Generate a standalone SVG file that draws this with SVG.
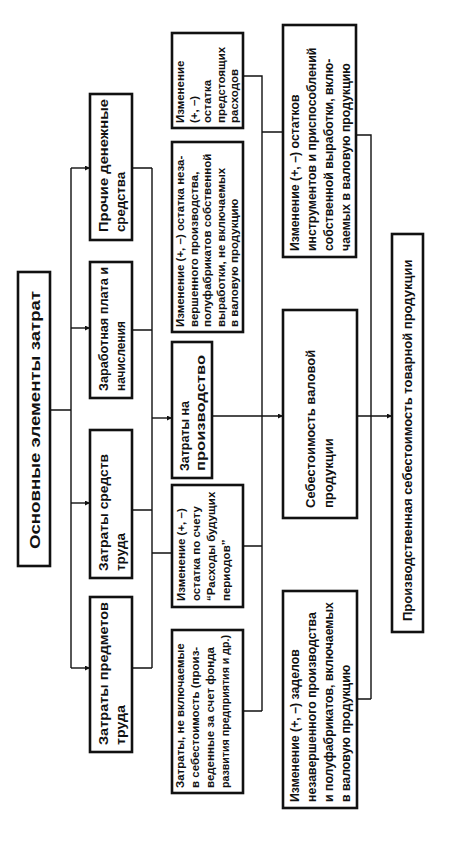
<svg xmlns="http://www.w3.org/2000/svg" width="454" height="841" viewBox="0 0 454 841">
<defs>
<marker id="ah" viewBox="0 0 10 10" refX="10" refY="5" markerWidth="7" markerHeight="5" orient="auto" markerUnits="userSpaceOnUse"><path d="M0,0 L10,5 L0,10 z" fill="#111"/></marker>
<style>
.box{fill:#fff;stroke:#111;stroke-width:2.6}
.t{font-family:"Liberation Sans",Arial,sans-serif;font-weight:bold;fill:#111}
.b{font-size:13px}
.m{font-size:11.5px}
.l{font-size:12.3px}
.big{font-size:15px}
.c{fill:none;stroke:#111;stroke-width:1.4}
.a{fill:none;stroke:#111;stroke-width:1.4;marker-end:url(#ah)}
</style>
</defs>
<rect width="454" height="841" fill="#fff"/>
<g id="connectors">
<path class="c" d="M50,410 H71 M71,168 V668"/>
<path class="a" d="M71,168 H90"/>
<path class="a" d="M71,328 H90"/>
<path class="a" d="M71,503 H90"/>
<path class="a" d="M71,668 H90"/>
<path class="c" d="M132,168 H152 M132,330 H152 M132,510 H152 M132,668 H152 M152,168 V668 M152,553 H172"/>
<path class="a" d="M152,418 H172"/>
<path class="c" d="M243,76 H262 V711 M262,132 H283 M243,546 H262 M243,711 H262"/>
<path class="a" d="M212,416 H283"/>
<path class="c" d="M356,135 H371 V699 M357,699 H371"/>
<path class="a" d="M357,416 H392"/>
</g>
<g id="n-main"><rect class="box" x="18" y="272" width="32" height="294"/>
<text class="t big" transform="translate(39.5,549) rotate(-90)" textLength="258" lengthAdjust="spacingAndGlyphs">Основные элементы затрат</text></g>
<g id="n-prochie"><rect class="box" x="90" y="94" width="42" height="146"/>
<text class="t b" transform="translate(108,232) rotate(-90)" textLength="133" lengthAdjust="spacingAndGlyphs">Прочие денежные</text>
<text class="t b" transform="translate(125,232) rotate(-90)" textLength="60" lengthAdjust="spacingAndGlyphs">средства</text></g>
<g id="n-zarplata"><rect class="box" x="90" y="262" width="42" height="136"/>
<text class="t b" transform="translate(108,391) rotate(-90)" textLength="124" lengthAdjust="spacingAndGlyphs">Заработная плата и</text>
<text class="t b" transform="translate(125,391) rotate(-90)" textLength="70" lengthAdjust="spacingAndGlyphs">начисления</text></g>
<g id="n-sredstv"><rect class="box" x="90" y="430" width="42" height="148"/>
<text class="t b" transform="translate(108,571) rotate(-90)" textLength="117" lengthAdjust="spacingAndGlyphs">Затраты средств</text>
<text class="t b" transform="translate(125,571) rotate(-90)" textLength="38" lengthAdjust="spacingAndGlyphs">труда</text></g>
<g id="n-predmetov"><rect class="box" x="90" y="597" width="42" height="155"/>
<text class="t b" transform="translate(108,745) rotate(-90)" textLength="143" lengthAdjust="spacingAndGlyphs">Затраты предметов</text>
<text class="t b" transform="translate(125,745) rotate(-90)" textLength="40" lengthAdjust="spacingAndGlyphs">труда</text></g>
<g id="n-predst"><rect class="box" x="172" y="33" width="71" height="95"/>
<text class="t m" transform="translate(184,123) rotate(-90)">Изменение</text>
<text class="t m" transform="translate(197.5,123) rotate(-90)">(+, –)</text>
<text class="t m" transform="translate(211,123) rotate(-90)">остатка</text>
<text class="t m" transform="translate(224.5,123) rotate(-90)">предстоящих</text>
<text class="t m" transform="translate(238,123) rotate(-90)">расходов</text></g>
<g id="n-nezav1"><rect class="box" x="172" y="142" width="71" height="190"/>
<text class="t m" transform="translate(184,327) rotate(-90)">Изменение (+, –) остатка неза-</text>
<text class="t m" transform="translate(197.5,327) rotate(-90)">вершенного производства,</text>
<text class="t m" transform="translate(211,327) rotate(-90)">полуфабрикатов собственной</text>
<text class="t m" transform="translate(224.5,327) rotate(-90)">выработки, не включаемых</text>
<text class="t m" transform="translate(238,327) rotate(-90)">в валовую продукцию</text></g>
<g id="n-zatraty"><rect class="box" x="172" y="342" width="40" height="136"/>
<text class="t b" transform="translate(189,471) rotate(-90)" textLength="70" lengthAdjust="spacingAndGlyphs">Затраты на</text>
<text class="t b" transform="translate(205,471) rotate(-90)" textLength="116" lengthAdjust="spacingAndGlyphs">производство</text></g>
<g id="n-budush"><rect class="box" x="172" y="485" width="71" height="122"/>
<text class="t m" transform="translate(185,601) rotate(-90)">Изменение (+, –)</text>
<text class="t m" transform="translate(200,601) rotate(-90)">остатка по счету</text>
<text class="t m" transform="translate(215,601) rotate(-90)">“Расходы будущих</text>
<text class="t m" transform="translate(230,601) rotate(-90)">периодов”</text></g>
<g id="n-nevkl"><rect class="box" x="172" y="630" width="71" height="163"/>
<text class="t m" transform="translate(184,788) rotate(-90)">Затраты, не включаемые</text>
<text class="t m" transform="translate(199,788) rotate(-90)">в себестоимость (произ-</text>
<text class="t m" transform="translate(214,788) rotate(-90)">веденные за счет фонда</text>
<text class="t m" transform="translate(229,788) rotate(-90)" textLength="153" lengthAdjust="spacingAndGlyphs">развития предприятия и др.)</text></g>
<g id="n-instr"><rect class="box" x="283" y="25" width="73" height="232"/>
<text class="t l" transform="translate(299,251) rotate(-90)">Изменение (+, –) остатков</text>
<text class="t l" transform="translate(316,251) rotate(-90)">инструментов и приспособлений</text>
<text class="t l" transform="translate(333,251) rotate(-90)">собственной выработки, вклю-</text>
<text class="t l" transform="translate(350,251) rotate(-90)">чаемых в валовую продукцию</text></g>
<g id="n-sebval"><rect class="box" x="283" y="310" width="74" height="208"/>
<text class="t b" transform="translate(315,508) rotate(-90)">Себестоимость валовой</text>
<text class="t b" transform="translate(333,508) rotate(-90)">продукции</text></g>
<g id="n-zadel"><rect class="box" x="283" y="591" width="74" height="217"/>
<text class="t l" transform="translate(299,802) rotate(-90)">Изменение (+, –) заделов</text>
<text class="t l" transform="translate(316,802) rotate(-90)">незавершенного производства</text>
<text class="t l" transform="translate(333,802) rotate(-90)">и полуфабрикатов, включаемых</text>
<text class="t l" transform="translate(350,802) rotate(-90)">в валовую продукцию</text></g>
<g id="n-proizv"><rect class="box" x="392" y="234" width="31" height="398"/>
<text class="t b" transform="translate(412,621) rotate(-90)">Производственная себестоимость товарной продукции</text></g>
</svg>
